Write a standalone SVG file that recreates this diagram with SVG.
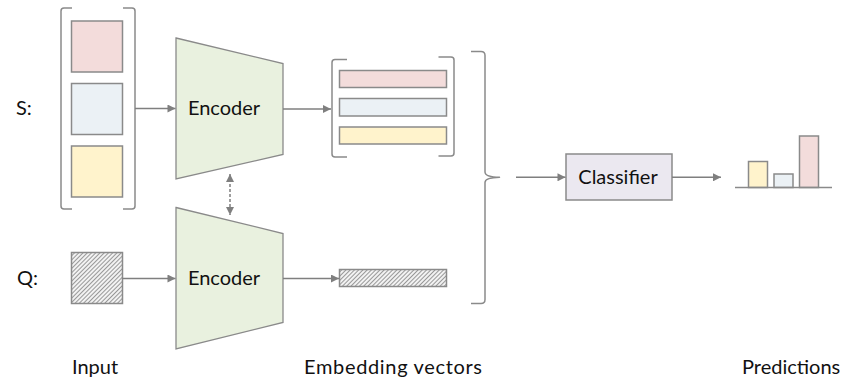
<svg xmlns="http://www.w3.org/2000/svg" width="842" height="383" viewBox="0 0 842 383">
  <defs>
    <style>
      .lbl { font-family: Lato, "Liberation Sans", Arial, sans-serif; font-size: 20px; fill: #111; }
      .box { stroke: #8a8a8a; stroke-width: 1.5; }
      .br { fill: none; stroke: #8a8a8a; stroke-width: 1.5; stroke-linejoin: round; }
      .enc { fill: #e9f1df; stroke: #8a8a8a; stroke-width: 1.3; }
      .ln { fill: none; stroke: #7f7f7f; stroke-width: 1.5; }
      .pink { fill: #f3dcdb; }
      .blue { fill: #ebf1f5; }
      .yellow { fill: #fff3cc; }
    </style>
    <pattern id="hatch" patternUnits="userSpaceOnUse" width="3" height="3" patternTransform="rotate(45)">
      <rect width="3" height="3" fill="#f2f2f2"/>
      <line x1="0" y1="0" x2="0" y2="3" stroke="#7a7a7a" stroke-width="1.5"/>
    </pattern>
    <marker id="arr" viewBox="0 0 10 10" refX="10" refY="5" markerWidth="9" markerHeight="8" markerUnits="userSpaceOnUse" orient="auto-start-reverse">
      <path d="M0,0 L10,5 L0,10 z" fill="#7f7f7f"/>
    </marker>
  </defs>
  <rect width="842" height="383" fill="#ffffff"/>

  <!-- row labels -->
  <text class="lbl" x="16" y="115">S:</text>
  <text class="lbl" x="17" y="285">Q:</text>

  <!-- support set input -->
  <g id="support-input">
    <path class="br" d="M72,8 H64 Q61,8 61,11 V206 Q61,209 64,209 H72"/>
    <path class="br" d="M123,8 H132 Q135,8 135,11 V206 Q135,209 132,209 H123"/>
    <rect class="box pink" x="71.5" y="21" width="51" height="51"/>
    <rect class="box blue" x="71.5" y="83.5" width="51" height="51"/>
    <rect class="box yellow" x="71.5" y="146" width="51" height="51"/>
  </g>

  <!-- query input -->
  <g id="query-input">
    <rect class="box" x="71.5" y="252.5" width="51" height="51" fill="url(#hatch)"/>
  </g>

  <!-- encoders -->
  <g id="encoder-s">
    <polygon class="enc" points="176,38 283,63.5 283,154.5 176,179"/>
    <text class="lbl" x="224" y="115" text-anchor="middle">Encoder</text>
  </g>
  <g id="encoder-q">
    <polygon class="enc" points="176,207.5 283,233.5 283,322.5 176,349"/>
    <text class="lbl" x="224" y="285" text-anchor="middle">Encoder</text>
  </g>

  <!-- support embeddings -->
  <g id="support-embeddings">
    <path class="br" d="M347,59.5 H335 Q332,59.5 332,62.5 V154 Q332,157 335,157 H347"/>
    <path class="br" d="M438.5,57 H451 Q454,57 454,60 V153 Q454,156 451,156 H438.5"/>
    <rect class="box pink" x="339.5" y="70.5" width="107" height="17"/>
    <rect class="box blue" x="339.5" y="98.5" width="107" height="17.5"/>
    <rect class="box yellow" x="339.5" y="127" width="107" height="17"/>
  </g>

  <!-- query embedding -->
  <g id="query-embedding">
    <rect class="box" x="339.5" y="269.5" width="107" height="17" fill="url(#hatch)"/>
  </g>

  <!-- grouping brace -->
  <g id="brace">
    <path class="br" d="M471,51.5 H481 Q485,51.5 485,55.5 V172 Q485,177 499.5,177.3 Q485,177.6 485,182.5 V299.5 Q485,303.5 481,303.5 H471"/>
  </g>

  <!-- classifier -->
  <g id="classifier">
    <rect x="566" y="154" width="106" height="46" fill="#ebe8f0" stroke="#8a8a8a" stroke-width="1.5"/>
    <text class="lbl" x="618" y="184" text-anchor="middle">Classifier</text>
  </g>

  <!-- predictions -->
  <g id="predictions">
    <rect class="box yellow" x="748.5" y="161.5" width="19" height="26"/>
    <rect class="box blue" x="774" y="174" width="19" height="13.5"/>
    <rect class="box pink" x="799.5" y="136" width="19" height="51.5"/>
    <line x1="735" y1="187.5" x2="832" y2="187.5" stroke="#8a8a8a" stroke-width="1.5"/>
  </g>

  <!-- connectors -->
  <g id="connectors">
    <line class="ln" x1="135" y1="108.5" x2="175.5" y2="108.5" marker-end="url(#arr)"/>
    <line class="ln" x1="283" y1="109" x2="331" y2="109" marker-end="url(#arr)"/>
    <line class="ln" x1="122.5" y1="278.5" x2="175.5" y2="278.5" marker-end="url(#arr)"/>
    <line class="ln" x1="283" y1="278.5" x2="339" y2="278.5" marker-end="url(#arr)"/>
    <line class="ln" x1="230" y1="174" x2="230" y2="215" stroke-dasharray="3,2" marker-start="url(#arr)" marker-end="url(#arr)"/>
    <line class="ln" x1="516" y1="177.3" x2="565.5" y2="177.3" marker-end="url(#arr)"/>
    <line class="ln" x1="672" y1="177.3" x2="721" y2="177.3" marker-end="url(#arr)"/>
  </g>

  <!-- column captions -->
  <text class="lbl" x="72" y="374">Input</text>
  <text class="lbl" x="304" y="374" textLength="178">Embedding vectors</text>
  <text class="lbl" x="742" y="374">Predictions</text>
</svg>
